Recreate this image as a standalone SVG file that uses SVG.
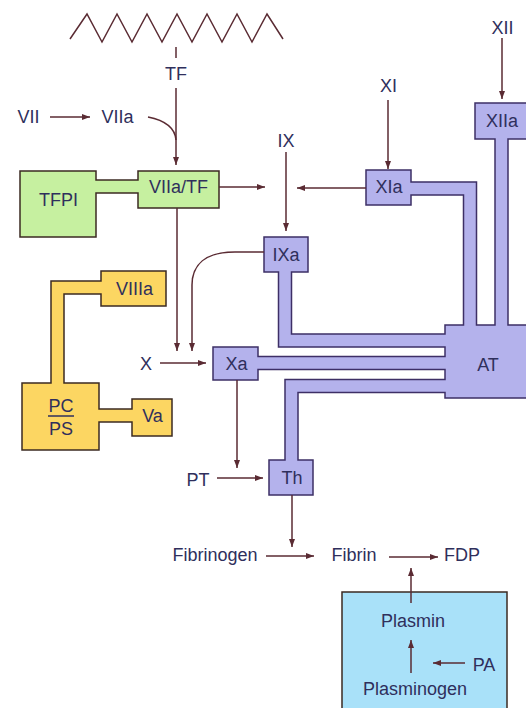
<svg xmlns="http://www.w3.org/2000/svg" width="526" height="708" viewBox="0 0 526 708">
<defs>
<marker id="ah" markerWidth="8" markerHeight="6" refX="8" refY="3" orient="auto" markerUnits="userSpaceOnUse">
<path d="M0,0 L8,3 L0,6 Z" fill="#5a2b33"/>
</marker>
<style>
text{font-family:"Liberation Sans",Arial,sans-serif;font-size:18px;fill:#2f2f5c;text-anchor:middle}
.arr{fill:none;stroke:#5a2b33;stroke-width:1.5;marker-end:url(#ah)}
.ln{fill:none;stroke:#5a2b33;stroke-width:1.5}
.pbox{fill:#b4b2ec;stroke:#3d2f66;stroke-width:1.5}
.pout{fill:none;stroke:#3d2f66;stroke-width:14.5;stroke-linejoin:miter}
.pin{fill:none;stroke:#b4b2ec;stroke-width:11.5;stroke-linejoin:miter}
.gbox{fill:#c6f0a0;stroke:#3b2a22;stroke-width:1.5}
.gout{fill:none;stroke:#3b2a22;stroke-width:14.5}
.gin{fill:none;stroke:#c6f0a0;stroke-width:11.5}
.ybox{fill:#fcd662;stroke:#3b2a22;stroke-width:1.5}
.yout{fill:none;stroke:#3b2a22;stroke-width:14.5;stroke-linejoin:miter}
.yin{fill:none;stroke:#fcd662;stroke-width:11.5;stroke-linejoin:miter}
.bbox{fill:#a9e1f9;stroke:#3b2a22;stroke-width:1.5}
</style>
</defs>
<rect width="526" height="708" fill="#ffffff"/>

<!-- membrane -->
<g id="membrane">
<polyline class="ln" stroke-width="2" points="70,39 87,14 102,42 117,14 132,42 147,14 162,42 177,14 192,42 207,14 222,42 237,14 252,42 267,14 283,39"/>
<line class="ln" x1="176" y1="47" x2="176" y2="58"/>
</g>

<!-- band outer strokes (under boxes) -->
<g id="bands-outer">
<path class="gout" d="M90,186.5 H144"/>
<path class="yout" d="M107,287.5 H57.5 V389"/>
<path class="yout" d="M93,415.5 H138"/>
<path class="pout" d="M405,188.5 H470 V331"/>
<path class="pout" d="M501.5,133 V331"/>
<path class="pout" d="M285,266 V340.5 H451"/>
<path class="pout" d="M252,363 H451"/>
<path class="pout" d="M451,386 H291.5 V466"/>
</g>

<g id="node-tfpi"><rect class="gbox" x="20" y="171" width="76" height="66"/></g>
<g id="node-viiatf"><rect class="gbox" x="138" y="171" width="81" height="37"/></g>
<g id="node-viiia"><rect class="ybox" x="101" y="271" width="65" height="35"/></g>
<g id="node-pcps"><rect class="ybox" x="22" y="383" width="77" height="67"/></g>
<g id="node-va"><rect class="ybox" x="132" y="399" width="40" height="37"/></g>
<g id="node-xiia"><rect class="pbox" x="475" y="103" width="60" height="36"/></g>
<g id="node-xia"><rect class="pbox" x="366" y="170" width="45" height="35"/></g>
<g id="node-ixa"><rect class="pbox" x="264" y="237" width="44" height="35"/></g>
<g id="node-xa"><rect class="pbox" x="213" y="347" width="45" height="33"/></g>
<g id="node-th"><rect class="pbox" x="269" y="460" width="44" height="35"/></g>
<g id="node-at"><rect class="pbox" x="445" y="325" width="100" height="73"/></g>
<g id="node-plasmin-box"><rect class="bbox" x="342" y="592" width="165" height="130"/></g>

<!-- band inner fills (merge with boxes) -->
<g id="bands-inner">
<path class="gin" d="M90,186.5 H144"/>
<path class="yin" d="M107,287.5 H57.5 V389"/>
<path class="yin" d="M93,415.5 H138"/>
<path class="pin" d="M405,188.5 H470 V331"/>
<path class="pin" d="M501.5,133 V331"/>
<path class="pin" d="M285,266 V340.5 H451"/>
<path class="pin" d="M252,363 H451"/>
<path class="pin" d="M451,386 H291.5 V466"/>
</g>

<!-- connectors -->
<g id="connectors">
<line class="arr" x1="50" y1="117" x2="90" y2="117"/>
<path class="ln" d="M148,117 C163,120 175,127 176,140"/>
<line class="arr" x1="176" y1="88" x2="176" y2="165"/>
<line class="arr" x1="219" y1="187" x2="265" y2="187"/>
<line class="arr" x1="366" y1="188" x2="297" y2="188"/>
<line class="arr" x1="286" y1="152" x2="286" y2="231"/>
<line class="arr" x1="388" y1="100" x2="388" y2="169"/>
<line class="arr" x1="502" y1="38" x2="502" y2="99"/>
<line class="arr" x1="177" y1="208" x2="177" y2="351"/>
<path class="arr" d="M264,252 H235 C205,252 192,265 192,285 V351"/>
<line class="arr" x1="160" y1="363" x2="206" y2="363"/>
<line class="arr" x1="237" y1="380" x2="237" y2="468"/>
<line class="arr" x1="217" y1="478" x2="263" y2="478"/>
<line class="arr" x1="292" y1="495" x2="292" y2="547"/>
<line class="arr" x1="266" y1="556" x2="314" y2="556"/>
<line class="arr" x1="389" y1="557" x2="438" y2="557"/>
<line class="arr" x1="411" y1="603" x2="411" y2="568"/>
<line class="arr" x1="411" y1="673" x2="411" y2="640"/>
<line class="arr" x1="465" y1="663" x2="433" y2="663"/>
</g>

<!-- labels -->
<g id="labels">
<text x="176" y="79.5">TF</text>
<text x="28.5" y="123">VII</text>
<text x="117.5" y="123">VIIa</text>
<text x="286" y="146.5">IX</text>
<text x="388.5" y="91.5">XI</text>
<text x="502.5" y="33.5">XII</text>
<text x="502" y="126.5">XIIa</text>
<text x="389" y="193">XIa</text>
<text x="178.5" y="193">VIIa/TF</text>
<text x="58.5" y="205.5">TFPI</text>
<text x="286" y="260.5">IXa</text>
<text x="134.5" y="295">VIIIa</text>
<text x="146" y="370">X</text>
<text x="236.5" y="369.5">Xa</text>
<text x="61" y="411.5">PC</text>
<line x1="48" y1="416" x2="74" y2="416" stroke="#2f2f5c" stroke-width="1.5"/>
<text x="61" y="435">PS</text>
<text x="152.5" y="421.5">Va</text>
<text x="488" y="371">AT</text>
<text x="198" y="486">PT</text>
<text x="292" y="484">Th</text>
<text x="215" y="560.5">Fibrinogen</text>
<text x="354" y="560.5">Fibrin</text>
<text x="462" y="560.5">FDP</text>
<text x="413" y="626.5">Plasmin</text>
<text x="484" y="670.5">PA</text>
<text x="415" y="695">Plasminogen</text>
</g>
</svg>
